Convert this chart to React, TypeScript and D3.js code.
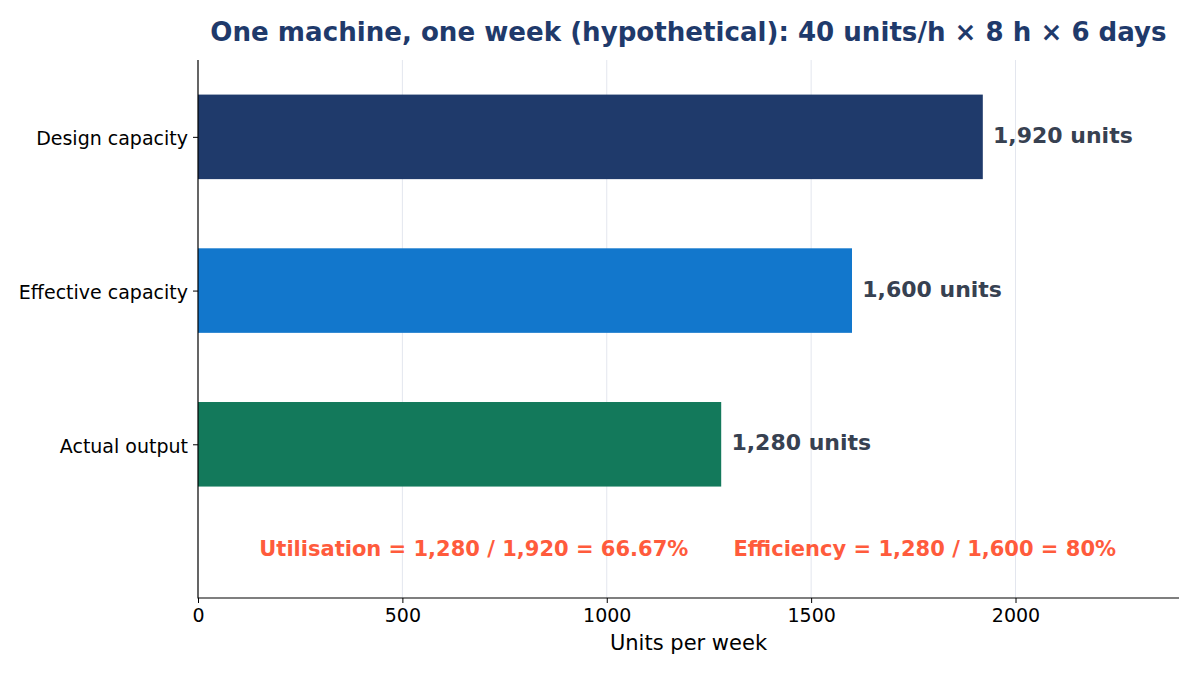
import React, { useEffect, useRef } from "react";
import * as d3 from "d3";

const categories = ["Actual output", "Effective capacity", "Design capacity"];
const values = [1280, 1600, 1920];
const barColors = ["#13795b", "#1277cc", "#1f3a6b"];
const xTicks = [0, 500, 1000, 1500, 2000];
const notes = [
  { x: 150, text: "Utilisation = 1,280 / 1,920 = 66.67%" },
  { x: 1310, text: "Efficiency = 1,280 / 1,600 = 80%" },
];
const title = "One machine, one week (hypothetical): 40 units/h × 8 h × 6 days";

const App = () => {
  const ref = useRef(null);
  const width = 1200;
  const height = 675;
  const marginTop = 60;
  const marginRight = 21;
  const marginBottom = 77;
  const marginLeft = 198;

  useEffect(() => {
    document.body.style.margin = "0";
    const svg = d3.select(ref.current);
    svg.selectAll("*").remove();
    svg
      .attr("width", width)
      .attr("height", height)
      .attr("viewBox", [0, 0, width, height])
      .style("font-family", "DejaVu Sans, sans-serif")
      .style("background", "#fff");

    const x = d3.scaleLinear([0, 2400], [marginLeft, width - marginRight]);
    const y = d3.scaleLinear([-1, 2.5], [height - marginBottom, marginTop]);
    const barH = y(0) - y(0.55);

    // grid lines
    svg
      .append("g")
      .selectAll("line")
      .data(xTicks.slice(1))
      .join("line")
      .attr("x1", (d) => x(d))
      .attr("x2", (d) => x(d))
      .attr("y1", marginTop)
      .attr("y2", height - marginBottom)
      .attr("stroke", "#e3e6ee")
      .attr("stroke-width", 1);

    // bars
    svg
      .append("g")
      .selectAll("rect")
      .data(values)
      .join("rect")
      .attr("x", x(0))
      .attr("y", (d, i) => y(i) - barH / 2)
      .attr("width", (d) => x(d) - x(0))
      .attr("height", barH)
      .attr("fill", (d, i) => barColors[i]);

    // value labels
    svg
      .append("g")
      .selectAll("text")
      .data(values)
      .join("text")
      .attr("x", (d) => x(d + 25))
      .attr("y", (d, i) => y(i))
      .attr("dy", "0.28em")
      .attr("fill", "#374151")
      .attr("font-size", 22)
      .attr("font-weight", "bold")
      .text((d) => `${d3.format(",")(d)} units`);

    // notes
    svg
      .append("g")
      .selectAll("text")
      .data(notes)
      .join("text")
      .attr("x", (d) => x(d.x))
      .attr("y", y(-0.68))
      .attr("dy", "0.35em")
      .attr("fill", "#ff5b3c")
      .attr("font-size", 21)
      .attr("font-weight", "bold")
      .text((d) => d.text);

    // x axis
    svg
      .append("g")
      .attr("transform", `translate(0,${height - marginBottom})`)
      .call(d3.axisBottom(x).tickValues(xTicks).tickFormat(d3.format("d")).tickSizeOuter(0).tickSize(5).tickPadding(6))
      .call((g) => g.select(".domain").remove())
      .call((g) => g.selectAll(".tick line").attr("stroke", "#000"))
      .call((g) =>
        g.selectAll(".tick text").attr("font-size", 19).attr("fill", "#000").attr("font-family", "DejaVu Sans")
      );

    // y axis
    svg
      .append("g")
      .attr("transform", `translate(${marginLeft},0)`)
      .call(
        d3
          .axisLeft(y)
          .tickValues([0, 1, 2])
          .tickFormat((d) => categories[d as number])
          .tickSizeOuter(0)
          .tickSize(5)
          .tickPadding(5)
      )
      .call((g) => g.select(".domain").remove())
      .call((g) => g.selectAll(".tick line").attr("stroke", "#000"))
      .call((g) =>
        g
          .selectAll(".tick text")
          .attr("font-size", 19)
          .attr("dy", "0.42em")
          .attr("fill", "#000")
          .attr("font-family", "DejaVu Sans")
      );

    // spines (left and bottom only)
    svg
      .append("path")
      .attr("d", `M${marginLeft},${marginTop}V${height - marginBottom}H${width - marginRight}`)
      .attr("fill", "none")
      .attr("stroke", "#000")
      .attr("stroke-width", 1.2);

    // axis label
    svg
      .append("text")
      .attr("x", (marginLeft + width - marginRight) / 2)
      .attr("y", 650)
      .attr("text-anchor", "middle")
      .attr("font-size", 21)
      .attr("fill", "#000")
      .text("Units per week");

    // title
    svg
      .append("text")
      .attr("x", (marginLeft + width - marginRight) / 2)
      .attr("y", 41)
      .attr("text-anchor", "middle")
      .attr("font-size", 26.1)
      .attr("font-weight", "bold")
      .attr("fill", "#1f3a6b")
      .text(title);
  }, []);

  return <svg ref={ref} style={{ display: "block" }} />;
};

export default App;
